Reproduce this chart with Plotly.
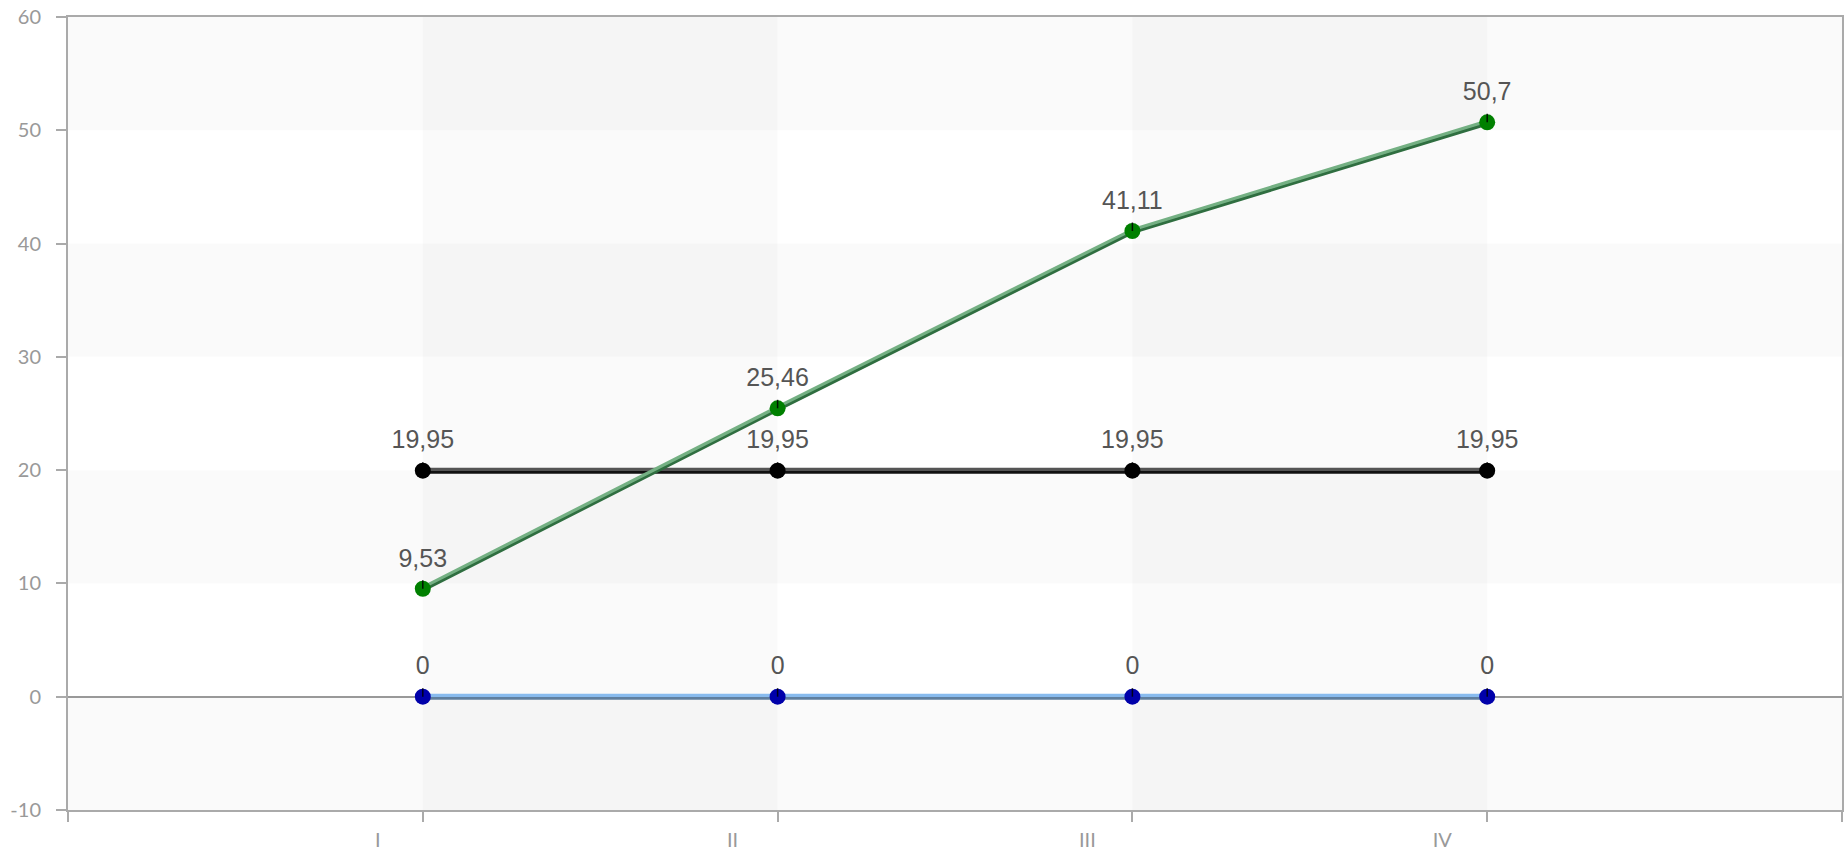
import plotly.graph_objects as go

categories = ["I", "II", "III", "IV"]
x_pos = [1, 2, 3, 4]
green_vals = [9.53, 25.46, 41.11, 50.7]
black_vals = [19.95, 19.95, 19.95, 19.95]
blue_vals = [0, 0, 0, 0]

y_ticks = [-10, 0, 10, 20, 30, 40, 50, 60]
y_tick_labels = ["-10", "0", "10", "20", "30", "40", "50", "60"]

series = [
    (blue_vals, "#88bbee", "#5f7f9f", "#0000aa"),
    (black_vals, "#555555", "#111111", "#000000"),
    (green_vals, "#74b083", "#2f6e40", "#008000"),
]


def fmt(v):
    return f"{v:g}".replace(".", ",")


fig = go.Figure()

# background bands
for y0 in [-10, 10, 30, 50]:
    fig.add_shape(type="rect", xref="x", yref="y", x0=0, x1=5, y0=y0, y1=y0 + 10,
                  fillcolor="rgba(0,0,0,0.02)", line_width=0, layer="below")
for x0 in [1, 3]:
    fig.add_shape(type="rect", xref="x", yref="y", x0=x0, x1=x0 + 1, y0=-10, y1=60,
                  fillcolor="rgba(0,0,0,0.018)", line_width=0, layer="below")

shift = 0.12
for vals, light, dark, mcol in series:
    fig.add_trace(go.Scatter(x=x_pos, y=[v - shift for v in vals], mode="lines",
                             line=dict(color=dark, width=3.5), hoverinfo="skip",
                             showlegend=False))
    fig.add_trace(go.Scatter(x=x_pos, y=[v + shift for v in vals], mode="lines",
                             line=dict(color=light, width=3.2), hoverinfo="skip",
                             showlegend=False))

for vals, light, dark, mcol in series:
    fig.add_trace(go.Scatter(x=x_pos, y=vals, mode="markers+text",
                             marker=dict(color="rgba(0,0,0,0)", size=24),
                             text=[fmt(v) for v in vals], textposition="top center",
                             textfont=dict(family="Liberation Sans, Arial", size=25,
                                           color="#555555"),
                             hoverinfo="skip", showlegend=False))
    fig.add_trace(go.Scatter(x=x_pos, y=vals, mode="markers",
                             marker=dict(color=mcol, size=16),
                             hoverinfo="skip", showlegend=False))
    tx, ty = [], []
    for xv, v in zip(x_pos, vals):
        tx += [xv, xv, None]
        ty += [v, v + 0.75, None]
    fig.add_trace(go.Scatter(x=tx, y=ty, mode="lines",
                             line=dict(color="rgba(0,0,0,0.85)", width=1.5),
                             hoverinfo="skip", showlegend=False))

fig.update_layout(
    width=1844, height=854,
    margin=dict(l=68, r=2, t=17, b=44, autoexpand=False),
    paper_bgcolor="white", plot_bgcolor="white",
    showlegend=False,
    xaxis=dict(range=[0, 5], tickvals=[0, 1, 2, 3, 4, 5],
               ticktext=[""] + categories + [""], automargin=False,
               showgrid=False, zeroline=False, showline=True, linecolor="#aaaaaa",
               linewidth=2, mirror=True, ticks="outside", ticklen=10, tickcolor="#aaaaaa",
               tickwidth=2, ticklabelshift=-45, ticklabelstandoff=1,
               tickfont=dict(family="Lato, Roboto", size=20, color="#999999")),
    yaxis=dict(range=[-10, 60], tickvals=y_ticks, ticktext=y_tick_labels,
               showgrid=False, automargin=False, ticklabeloverflow="allow",
               zeroline=True, zerolinecolor="#999999", zerolinewidth=2,
               showline=True, linecolor="#aaaaaa", linewidth=2, mirror=True,
               ticks="outside", ticklen=10, tickcolor="#aaaaaa", tickwidth=2,
               ticklabelstandoff=11,
               tickfont=dict(family="Lato, Roboto", size=20, color="#999999")),
)

fig.write_html(
    "out.html",
    config={"displayModeBar": False},
    post_script="document.body.style.margin='0';document.body.style.overflow='hidden';",
)
